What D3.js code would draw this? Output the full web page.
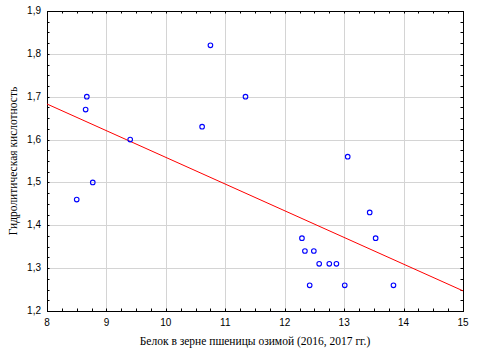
<!DOCTYPE html>
<html>
<head>
<meta charset="utf-8">
<script src="https://cdn.jsdelivr.net/npm/d3@7"></script>
<style>
  body { margin: 0; background: #fff; }
  .tick-label { font-family: "Liberation Sans", Arial, sans-serif; font-size: 10px; fill: #000; }
  .axis-title { font-family: "Liberation Serif", "Times New Roman", serif; font-size: 11.5px; fill: #000; }
</style>
</head>
<body>
<div id="chart"></div>
<script>
// Белок vs гидролитическая кислотность, диаграмма рассеяния с линией регрессии

const proteinX = [8.67, 8.65, 9.40, 10.75, 10.61, 11.34, 13.06, 8.77, 8.50, 13.43,
                  13.53, 12.29, 12.34, 12.49, 12.58, 12.75, 12.87, 12.42, 13.01, 13.83];
const acidityY = [1.70, 1.67, 1.60, 1.82, 1.63, 1.70, 1.56, 1.50, 1.46, 1.43,
                  1.37, 1.37, 1.34, 1.34, 1.31, 1.31, 1.31, 1.26, 1.26, 1.26];

// Линия регрессии (концы)
const fitX = [8, 15];
const fitY = [1.683, 1.247];

const xTicks = [8, 9, 10, 11, 12, 13, 14, 15];
const yTicks = [1.2, 1.3, 1.4, 1.5, 1.6, 1.7, 1.8, 1.9];

const xTitle = "Белок в зерне пшеницы озимой (2016, 2017 гг.)";
const yTitle = "Гидролитическая кислотность";

const W = 478, H = 359;
const margin = { top: 11, right: 15, bottom: 48, left: 47 };
const innerW = W - margin.left - margin.right;
const innerH = H - margin.top - margin.bottom;

const svg = d3.select("#chart").append("svg")
  .attr("width", W).attr("height", H);

const g = svg.append("g")
  .attr("transform", `translate(${margin.left},${margin.top})`);

const x = d3.scaleLinear().domain([8, 15]).range([0, innerW]);
const y = d3.scaleLinear().domain([1.2, 1.9]).range([innerH, 0]);

const fmt = d => d3.format(".1f")(d).replace(".", ",");

// Сетка
g.append("g").selectAll("line").data(xTicks.slice(1, -1)).enter().append("line")
  .attr("x1", d => Math.round(x(d)) + 0.5).attr("x2", d => Math.round(x(d)) + 0.5)
  .attr("y1", 0).attr("y2", innerH)
  .attr("stroke", "#d4d4d4").attr("stroke-width", 1);
g.append("g").selectAll("line").data(yTicks.slice(1, -1)).enter().append("line")
  .attr("y1", d => Math.round(y(d)) + 0.5).attr("y2", d => Math.round(y(d)) + 0.5)
  .attr("x1", 0).attr("x2", innerW)
  .attr("stroke", "#d4d4d4").attr("stroke-width", 1);

// Мелкие засечки внутрь на всех сторонах
const xMinor = d3.range(8, 15.001, 0.25);
const yMinor = d3.range(1.2, 1.9001, 0.025);
const tick = 2.5;
const ticksG = g.append("g").attr("stroke", "#000").attr("stroke-width", 1);
xMinor.forEach(v => {
  const px = Math.round(x(v)) + 0.5;
  ticksG.append("line").attr("x1", px).attr("x2", px).attr("y1", innerH).attr("y2", innerH - tick);
  ticksG.append("line").attr("x1", px).attr("x2", px).attr("y1", 0).attr("y2", tick);
});
yMinor.forEach(v => {
  const py = Math.round(y(v)) + 0.5;
  ticksG.append("line").attr("y1", py).attr("y2", py).attr("x1", 0).attr("x2", tick);
  ticksG.append("line").attr("y1", py).attr("y2", py).attr("x1", innerW).attr("x2", innerW - tick);
});

// Рамка
g.append("rect")
  .attr("x", 0.5).attr("y", 0.5).attr("width", innerW).attr("height", innerH)
  .attr("fill", "none").attr("stroke", "#000").attr("stroke-width", 1);

// Подписи засечек
g.append("g").selectAll("text").data(xTicks).enter().append("text")
  .attr("class", "tick-label")
  .attr("x", d => x(d)).attr("y", innerH + 15)
  .attr("text-anchor", "middle")
  .text(d => d);
g.append("g").selectAll("text").data(yTicks).enter().append("text")
  .attr("class", "tick-label")
  .attr("x", -6).attr("y", d => y(d) + 3)
  .attr("text-anchor", "end")
  .text(fmt);

// Линия регрессии
const line = d3.line().x(d => x(d[0])).y(d => y(d[1]));
g.append("path")
  .datum(fitX.map((v, i) => [v, fitY[i]]))
  .attr("d", line)
  .attr("fill", "none").attr("stroke", "#ff0000").attr("stroke-width", 1);

// Точки
g.append("g").selectAll("circle").data(proteinX).enter().append("circle")
  .attr("cx", d => x(d)).attr("cy", (d, i) => y(acidityY[i]))
  .attr("r", 2.3)
  .attr("fill", "none").attr("stroke", "#0000ff").attr("stroke-width", 1.1);

// Заголовки осей
svg.append("text").attr("class", "axis-title")
  .attr("x", margin.left + innerW / 2).attr("y", 345)
  .attr("text-anchor", "middle")
  .text(xTitle);
svg.append("text").attr("class", "axis-title")
  .attr("transform", `translate(17,${margin.top + innerH / 2}) rotate(-90)`)
  .attr("text-anchor", "middle")
  .text(yTitle);
</script>
</body>
</html>
